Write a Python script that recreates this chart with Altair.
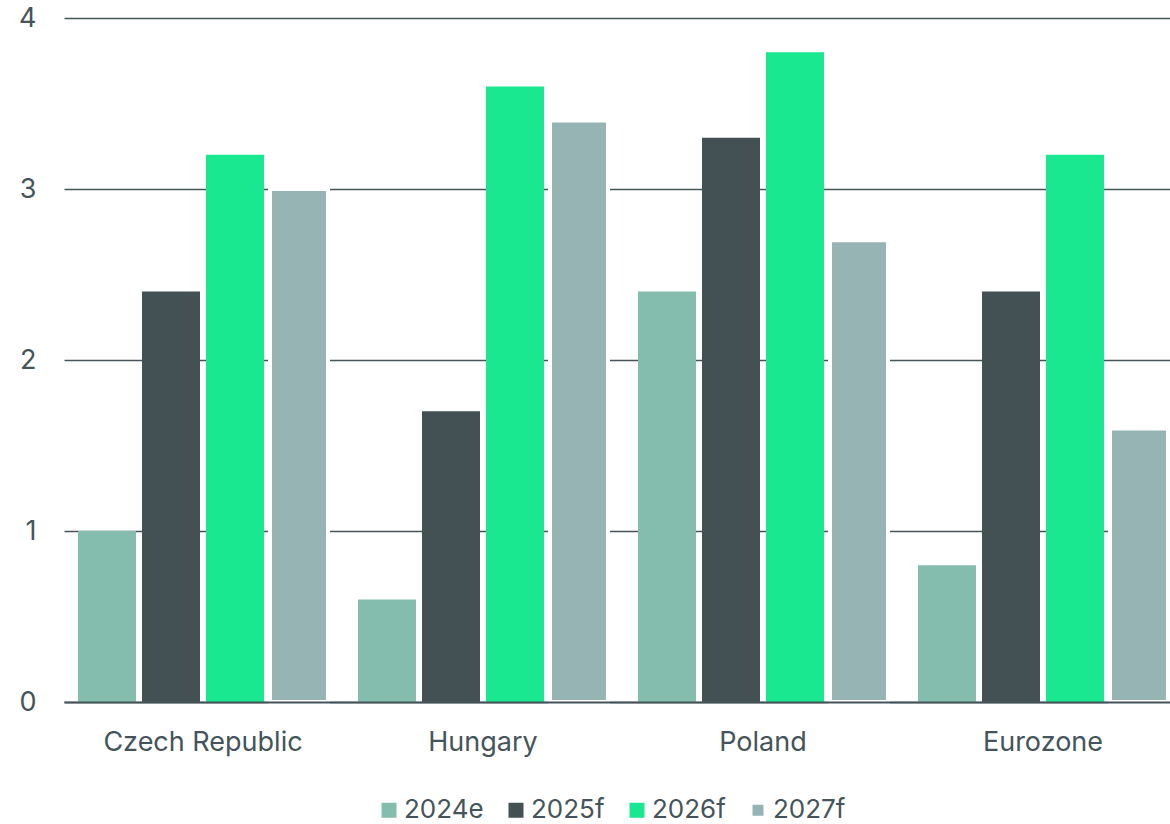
import altair as alt
import pandas as pd

# Forecast values by region and year
regions = ["Czech Republic", "Hungary", "Poland", "Eurozone"]
years = ["2024e", "2025f", "2026f", "2027f"]
v2024e = [1.0, 0.6, 2.4, 0.8]
v2025f = [2.4, 1.7, 3.3, 2.4]
v2026f = [3.2, 3.6, 3.8, 3.2]
v2027f = [3.0, 3.4, 2.7, 1.6]
y_ticks = [0, 1, 2, 3, 4]

# Styling
fills = ["#84bcae", "#435155", "#19e890", "#97b4b5"]
edges = ["transparent", "transparent", "transparent", "#ffffff"]
text_color = "#45545a"
line_color = "#45545a"
font = "Inter"

series = [v2024e, v2025f, v2026f, v2027f]
rows = []
for year, vals in zip(years, series):
    for region, v in zip(regions, vals):
        rows.append({"region": region, "year": year, "value": v})
df = pd.DataFrame(rows)

legend_opts = dict(
    title=None,
    orient="none",
    legendX=312,
    legendY=779,
    direction="horizontal",
    symbolType="square",
    symbolSize=225,
    symbolStrokeWidth=4,
    labelFontSize=26,
    labelColor=text_color,
    labelFont=font,
    labelLimit=0,
    columnPadding=16,
    labelOffset=2,
    padding=0,
)

chart = (
    alt.Chart(df)
    .mark_bar(strokeWidth=4)
    .encode(
        x=alt.X(
            "region:N",
            sort=regions,
            scale=alt.Scale(paddingInner=30 / 280, paddingOuter=0.02857, align=0.875),
            axis=alt.Axis(
                title=None,
                labelAngle=0,
                labelFontSize=27,
                labelFont=font,
                labelColor=text_color,
                labelPadding=27,
                labelLimit=0,
                ticks=False,
                tickSize=0,
                domainColor=line_color,
                domainWidth=2,
                grid=False,
                zindex=1,
            ),
        ),
        xOffset=alt.XOffset(
            "year:N",
            sort=years,
            scale=alt.Scale(paddingInner=0.09375, paddingOuter=0),
        ),
        y=alt.Y(
            "value:Q",
            scale=alt.Scale(domain=[0, 4], nice=False),
            axis=alt.Axis(
                values=y_ticks,
                format="d",
                title=None,
                domain=False,
                ticks=False,
                labelPadding=28,
                labelFontSize=27,
                labelFont=font,
                labelColor=text_color,
                gridColor=line_color,
                gridWidth=1.3,
            ),
        ),
        fill=alt.Fill(
            "year:N",
            sort=years,
            scale=alt.Scale(domain=years, range=fills),
            legend=alt.Legend(**legend_opts),
        ),
        stroke=alt.Stroke(
            "year:N",
            sort=years,
            scale=alt.Scale(domain=years, range=edges),
            legend=alt.Legend(**legend_opts),
        ),
    )
    .properties(
        width=1106,
        height=684,
        autosize=alt.AutoSizeParams(type="none"),
        padding={"left": 64, "top": 18, "right": 0, "bottom": 122},
    )
    .configure(font=font, view=alt.ViewConfig(stroke=None))
)

chart.save("out.html", embed_options={"renderer": "svg", "actions": False})
